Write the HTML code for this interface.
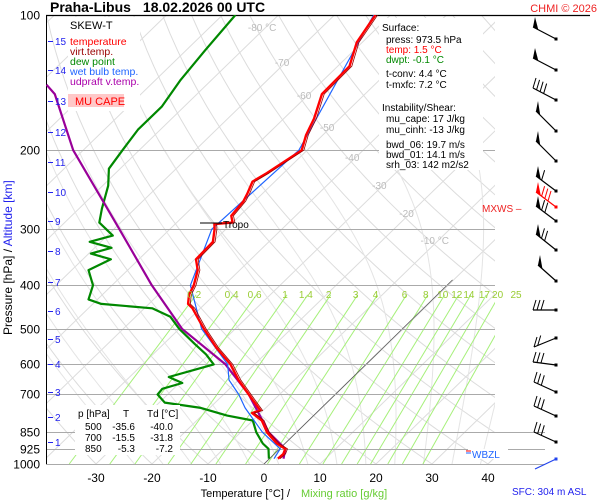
<!DOCTYPE html>
<html><head><meta charset="utf-8"><style>
body{margin:0;background:#fff;}
svg{display:block;font-family:"Liberation Sans",sans-serif;}
</style></head><body>
<svg id="chart" width="600" height="500" viewBox="0 0 600 500" xmlns="http://www.w3.org/2000/svg">
<defs><clipPath id="plotclip"><rect x="46" y="15" width="449" height="449"/></clipPath>
<clipPath id="plotclip2"><rect x="46" y="15" width="500" height="449"/></clipPath></defs>
<rect x="0" y="0" width="600" height="500" fill="#fff"/>
<g id="grid" clip-path="url(#plotclip)"></g>
<g id="hlines"></g>
<g id="series" clip-path="url(#plotclip2)"></g>
<g>
<text x="50" y="12" font-size="14" font-weight="bold">Praha-Libus<tspan dx="12">18.02.2026 00 UTC</tspan></text>
<text x="597" y="12" font-size="11" fill="#ee2222" text-anchor="end">CHMI © 2026</text>
<rect x="68" y="17" width="72" height="94" fill="#fff"/>
<text x="70" y="29" font-size="11">SKEW-T</text>
<text x="70" y="45" font-size="10.5" fill="#ff0000">temperature</text>
<text x="70" y="55" font-size="10.5" fill="#990000">virt.temp.</text>
<text x="70" y="65" font-size="10.5" fill="#008800">dew point</text>
<text x="70" y="75" font-size="10.5" fill="#1e64ff">wet bulb temp.</text>
<text x="70" y="85" font-size="10.5" fill="#aa00aa">udpraft v.temp.</text>
<rect x="68" y="94" width="56" height="13" fill="#ffc8c8"/>
<text x="75" y="105" font-size="11" fill="#ff0000">MU CAPE</text>
<rect x="379" y="18" width="104" height="152" fill="#fff"/>
<g font-size="10">
<text x="382" y="31">Surface:</text>
<text x="386" y="43">press: 973.5 hPa</text>
<text x="386" y="53" fill="#ff0000">temp: 1.5 °C</text>
<text x="386" y="63" fill="#008800">dwpt: -0.1 °C</text>
<text x="386" y="77">t-conv: 4.4 °C</text>
<text x="386" y="88">t-mxfc: 7.2 °C</text>
<text x="382" y="111">Instability/Shear:</text>
<text x="386" y="122">mu_cape: 17 J/kg</text>
<text x="386" y="133">mu_cinh: -13 J/kg</text>
<text x="386" y="148">bwd_06: 19.7 m/s</text>
<text x="386" y="158">bwd_01: 14.1 m/s</text>
<text x="386" y="168">srh_03: 142 m2/s2</text>
</g>
<rect x="75" y="405" width="105" height="50" fill="#fff"/>
<g font-size="10">
<text x="78" y="417">p [hPa]</text><text x="123" y="417">T</text><text x="147" y="417">Td [°C]</text>
<text x="85" y="430">500</text><text x="135" y="430" text-anchor="end">-35.6</text><text x="173" y="430" text-anchor="end">-40.0</text>
<text x="85" y="441">700</text><text x="135" y="441" text-anchor="end">-15.5</text><text x="173" y="441" text-anchor="end">-31.8</text>
<text x="85" y="452">850</text><text x="135" y="452" text-anchor="end">-5.3</text><text x="173" y="452" text-anchor="end">-7.2</text>
</g>
<line x1="200" y1="223" x2="222" y2="223" stroke="#000" stroke-width="1"/>
<text x="223" y="228" font-size="10">Tropo</text>
<text x="482" y="212" font-size="10" fill="#ee2222">MXWS –</text>
<rect x="468" y="449" width="40" height="10" fill="#fff"/>
<line x1="466" y1="451" x2="471" y2="451" stroke="#ff0000"/>
<line x1="466" y1="453" x2="471" y2="453" stroke="#1e64ff"/>
<text x="472" y="458" font-size="10" fill="#1e64ff">WBZL</text>
<text x="290" y="497" font-size="11" text-anchor="end">Temperature [°C]  /</text>
<text x="301" y="497" font-size="11" fill="#66cc33">Mixing ratio [g/kg]</text>
<text x="512" y="495" font-size="10" fill="#2222ee">SFC: 304 m ASL</text>
<text transform="translate(12,335) rotate(-90)" font-size="12">Pressure [hPa]  /  <tspan fill="#2222ee">Altitude [km]</tspan></text>
</g>
<g id="labels"></g>
<g id="barbs"></g>
</svg>
<script>
// ---- data ----
const tempP = [973,950,925,900,850,800,770,760,700,650,600,550,500,470,450,440,420,400,370,350,320,300,292,290,280,260,250,235,225,200,185,170,150,130,115,100];
const tempT = [1.5,1.6,1.0,-1.5,-5.3,-8.4,-11.5,-10.5,-15.5,-20,-24.3,-30,-35.6,-39,-41.4,-43,-44.5,-45.4,-47.5,-49.8,-50,-52,-53,-50,-51.5,-52,-52.7,-54,-53,-51,-53,-54.6,-57.7,-57.9,-61,-62.7];
const dwptP = [973,950,925,900,850,800,780,750,730,700,680,660,640,620,600,570,540,500,470,450,440,430,400,370,350,340,330,320,310,290,270,240,220,200,180,160,140,120,100];
const dwptT = [-0.1,-1,-2,-4,-7.2,-10,-15.5,-21.6,-29,-31.8,-32,-29.5,-33,-30.2,-27.3,-30.5,-34.5,-40,-43.8,-48.6,-58.5,-61.6,-63.4,-67,-65,-69.6,-67,-72,-69,-73.8,-75.9,-79,-82,-83,-84,-84,-85.5,-86.6,-87.7];
const wbP = [973,925,850,750,700,650,600,500,400,300,200,100];
const wbT = [0.8,0.1,-6.1,-13.7,-17.3,-21.7,-24.8,-36,-46,-52.5,-51.5,-63];
const parcelP = [973,925,850,700,600,500,400,300,200,150,143];
const parcelT = [2.5,1,-5,-15.5,-25.2,-39.5,-52.9,-69,-91.8,-105.4,-108.6];
const pressTicks = [100,200,300,400,500,600,700,850,925,1000];
const tempTicks = [-30,-20,-10,0,10,20,30,40];
const altKm = [15,14,13,12,11,10,9,8,7,6,5,4,3,2,1];
const altY = [41,70,101,132,162,192,221,251,282,311,339,364,392,417,442];
const mixRatios = [0.2,0.4,0.6,1,1.4,2,3,4,6,8,10,12,14,17,20,25];
const isoLabels = [-80,-70,-60,-50,-40,-30,-20,-10];

// ---- axes ----
const NS="http://www.w3.org/2000/svg";
function yP(p){return 15+195*Math.log(p/100);}
function xT(T,p){return 264+5.6*T+1.03*(464-yP(p));}
function mk(tag,attrs,parent){const e=document.createElementNS(NS,tag);for(const k in attrs)e.setAttribute(k,attrs[k]);parent.appendChild(e);return e;}
const grid=document.getElementById('grid'),hl=document.getElementById('hlines'),ser=document.getElementById('series'),lab=document.getElementById('labels'),bg=document.getElementById('barbs');
function pathFrom(ps,ts){let d='';for(let i=0;i<ps.length;i++){d+=(i?'L':'M')+xT(ts[i],ps[i]).toFixed(1)+','+yP(ps[i]).toFixed(1);}return d;}

for(let T=-160;T<=40;T+=10){
  const l=mk('line',{x1:xT(T,1000),y1:yP(1000),x2:xT(T,100),y2:yP(100),stroke:'#dcdcdc','stroke-width':1},grid);
  
  
}
for(let th=-40;th<=200;th+=10){
  let d='';
  for(let p=1050;p>=100;p-=10){const T=(th+273.15)*Math.pow(p/1000,0.286)-273.15;d+=(p==1050?'M':'L')+xT(T,p).toFixed(1)+','+yP(p).toFixed(1);}
  const e=mk('path',{d:d,fill:'none',stroke:'#dcdcdc','stroke-width':1},grid);
  
  
}
function es(Tc){return 6.112*Math.exp(17.67*Tc/(Tc+243.5));}
for(let t0=-20;t0<=40;t0+=5){
  let T=t0+273.15,p=1050,d='M'+xT(t0,p).toFixed(1)+','+yP(p).toFixed(1);
  while(p>200){
    const e_=es(T-273.15),rs=0.622*e_/(p-e_);
    const dTdp=(287*T+2.5e6*rs)/(p*(1004+2.5e6*2.5e6*rs*0.622/(287*T*T)));
    T-=dTdp*5;p-=5;
    d+='L'+xT(T-273.15,p).toFixed(1)+','+yP(p).toFixed(1);
  }
  const e=mk('path',{d:d,fill:'none',stroke:'#e4e4e4','stroke-width':1},grid);
  
  
}
mixRatios.forEach(w=>{
  let d='';
  [1000,420].forEach((p,i)=>{const e=w*p/(622+w);const L=Math.log(e/6.112);const Td=243.5*L/(17.67-L);d+=(i?'L':'M')+xT(Td,p).toFixed(1)+','+yP(p).toFixed(1);});
  const e=mk('path',{d:d,fill:'none',stroke:'#a6f07a','stroke-width':1},grid);
  
  
  const e2=w*420/(622+w),L2=Math.log(e2/6.112),Td2=243.5*L2/(17.67-L2);
  const t=mk('text',{x:xT(Td2,420)-2,y:298,'font-size':10,fill:'#99cc33','text-anchor':'middle'},lab);
  t.textContent=String(w);
  
  
});
const z=mk('line',{x1:xT(0,1000),y1:yP(1000),x2:xT(0,395)+2,y2:yP(395)-3,stroke:'#555','stroke-width':0.8},grid);



pressTicks.forEach(p=>{
  const y=Math.round(yP(p))+0.5;
  const x2=p>=850?545:495;
  const l=mk('line',{x1:46,y1:y,x2:p==100?590:x2,y2:y,stroke:p==100?'#000':'#aaa','stroke-width':p==100?1.3:1},hl);
  
  
  const t=mk('text',{x:40,y:y+4,'font-size':12,'text-anchor':'end',fill:'#000'},lab);
  t.textContent=String(p);
  
  
});
const ax=mk('line',{x1:46.5,y1:15,x2:46.5,y2:464,stroke:'#000','stroke-width':1},hl);


altKm.forEach((k,i)=>{
  const tk=mk('line',{x1:48,y1:altY[i]+0.5,x2:53,y2:altY[i]+0.5,stroke:'#2222ee','stroke-width':1},lab);
  
  
  const t=mk('text',{x:55,y:altY[i]+4,'font-size':10,fill:'#2222ee'},lab);
  t.textContent=String(k);
  
  
});
tempTicks.forEach(T=>{
  const t=mk('text',{x:xT(T,1000),y:482,'font-size':12,'text-anchor':'middle',fill:'#000'},lab);
  t.textContent=String(T);
  
  
});
isoLabels.forEach((T,i)=>{
  const yy=[27,62,95,127,157,185,213,240][i];
  const p=100*Math.exp((yy-15)/195);
  const t=mk('text',{x:xT(T,p)-4,y:yy+4,'font-size':10,fill:'#bbb','text-anchor':'middle'},lab);
  t.textContent=T+(i==0||i==7?' °C':'');
  
  
});

function line(ps,ts,color,w,name){
  const e=mk('path',{d:pathFrom(ps,ts),fill:'none',stroke:color,'stroke-width':w,'stroke-linejoin':'round'},ser);
  
  
}
line(dwptP,dwptT,'#008800',2.2,'dewpoint-line');
line(parcelP,parcelT,'#990099',2.2,'parcel-line');
line(wbP,wbT,'#1e64ff',1.2,'wet-bulb-line');
line(tempP,tempT,'#ff0000',2.4,'temperature-line');
line(tempP,tempT.map(t=>t+0.4),'#990000',0.8,'virtual-temperature-line');

// wind barbs
const barbY=[39,70,100,131,161,191,207,221,250,281,310,338,365,392,416,442,459];
const barbDx=[-23,-23,-23,-20,-20,-20,-20,-20,-20,-18,-23,-22,-23,-22,-22,-22,-21];
const barbDy=[-12,-12,-12,-20,-20,-15,-15,-15,-16,-16,0,9,-3,-10,-10,-10,10];
const barbFlags=[1,1,0,1,1,1,1,1,1,1,0,0,0,0,0,0,0];
const barbFull=[0,0,4,0,0,1,3,2,2,0,3,2,3,3,3,3,0];
(function(){
  for(let i=0;i<barbY.length;i++){
    const x0=556,y0=barbY[i];
    const col=i==6?'#ff0000':(i==16?'#2244ee':'#000');
    const dx=barbDx[i],dy=barbDy[i],L=Math.hypot(dx,dy),ux=dx/L,uy=dy/L;
    const x1=x0+dx,y1=y0+dy;
    const e=mk('line',{x1:x0,y1:y0,x2:x1,y2:y1,stroke:col,'stroke-width':1.2},bg);
    
    
    let pos=0;
    if(barbFlags[i]){
      const f=mk('polygon',{points:x1+','+y1+' '+(x1-ux*6)+','+(y1-uy*6)+' '+(x1+2)+','+(y1-10),fill:col},bg);
      
      
      pos=7;
    }
    for(let k=0;k<barbFull[i];k++){
      const bx=x1-ux*(pos+k*4),by=y1-uy*(pos+k*4);
      const t=mk('line',{x1:bx,y1:by,x2:bx+3,y2:by-10,stroke:col,'stroke-width':1},bg);
      
      
    }
    const dot=mk('rect',{x:x0-1.5,y:y0-1.5,width:3,height:3,fill:col},bg);
    
    
  }
})();
</script>
</body></html>
